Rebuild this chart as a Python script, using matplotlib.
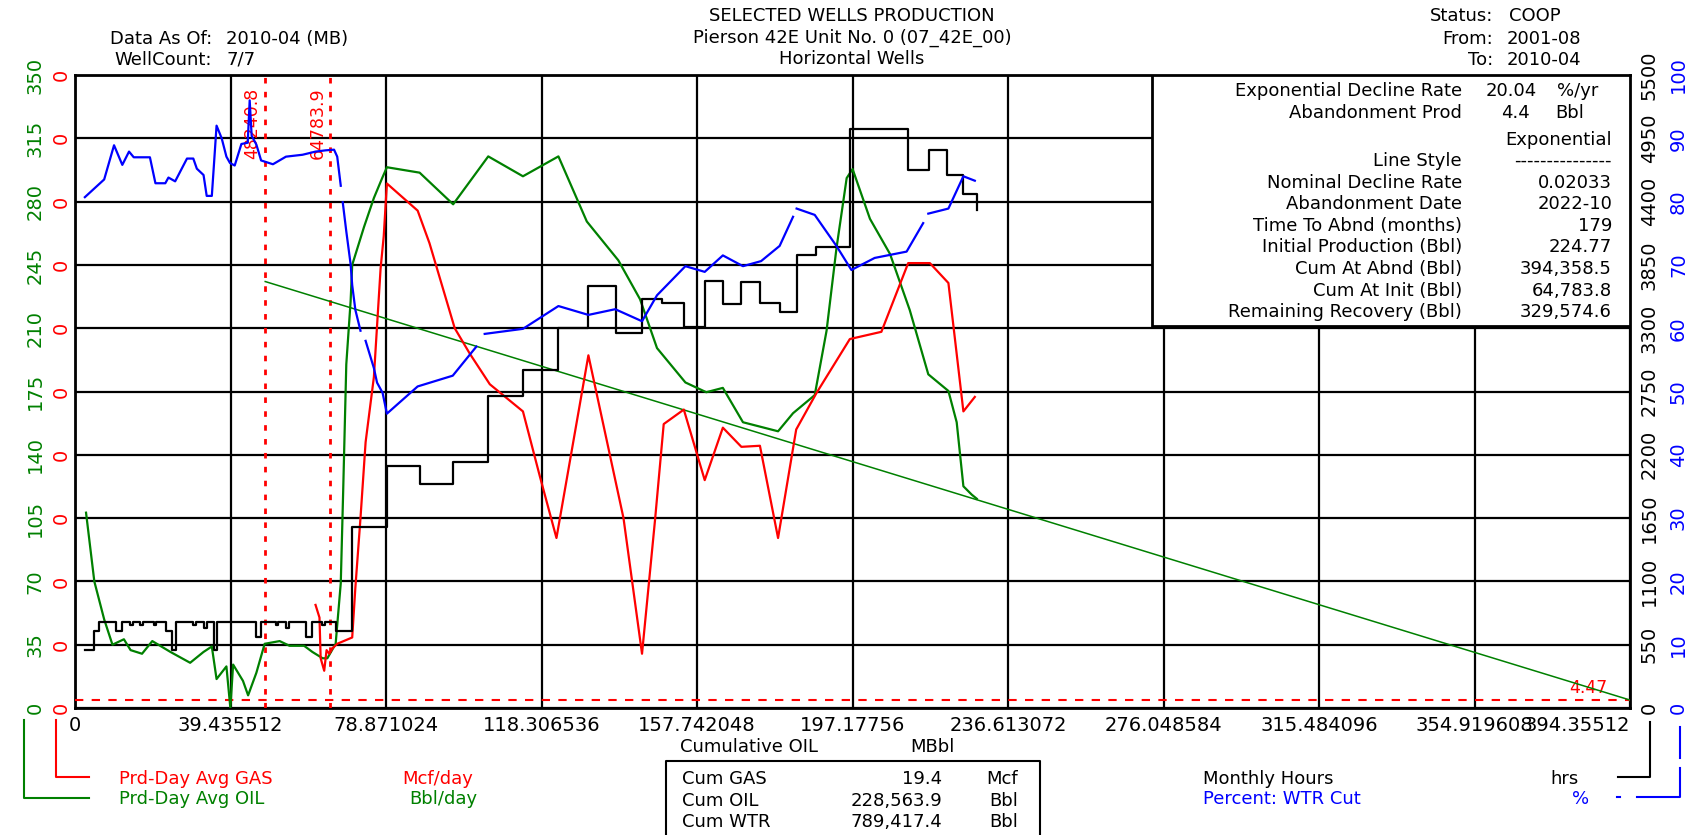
import numpy as np
import matplotlib
matplotlib.use('Agg')
import matplotlib.pyplot as plt
from matplotlib.lines import Line2D
from matplotlib.patches import Rectangle
from matplotlib.ticker import FormatStrFormatter

plt.rcParams['font.family'] = ['DejaVu Sans']

W, H = 1701, 835

# x axis: cumulative oil, MBbl
x_step = 39.435512
x_ticks = [i * x_step for i in range(11)]
x_labels = ['0', '39.435512', '78.871024', '118.306536', '157.742048', '197.17756',
            '236.613072', '276.048584', '315.484096', '354.919608', '394.35512']

oil_ticks = list(range(0, 351, 35))
gas_ticks = [t / 1000 for t in oil_ticks]
hrs_ticks = list(range(0, 5501, 550))
wtr_ticks = list(range(0, 101, 10))

# Prd-Day Avg OIL (Bbl/day)
oil_x = [2.8, 4.9, 7.4, 9.5, 12.4, 14.1, 17.0, 19.6, 24.2, 29.2, 32.6, 34.7, 35.9, 38.4, 39.4,
         40.1, 42.6, 43.9, 46.0, 48.1, 51.9, 54.4, 58.1, 60.2, 62.8, 64.0, 66.1, 67.4, 68.0, 68.8,
         69.9, 70.3, 73.3, 75.8, 77.9, 79.1, 87.4, 95.9, 104.8, 113.6, 122.6, 129.8, 137.8, 143.3,
         147.6, 154.8, 160.1, 164.3, 169.4, 178.3, 182.1, 187.6, 190.6, 193.1, 195.7, 197.2, 201.6,
         206.7, 211.7, 216.4, 221.5, 223.6, 225.3, 227.4, 228.7]
oil_y = [108, 70, 49, 35, 38, 32, 30, 37, 31, 25, 31, 34, 16, 23, 0,
         24, 15, 7, 19.5, 35.5, 37, 34.4, 34.4, 31, 27.5, 27.5, 35.5, 69, 119, 190,
         225, 245, 266, 282, 293, 299, 296, 278.5, 305, 294, 305, 269, 247.5, 226,
         199, 180, 174.6, 177, 158, 153, 163, 173, 208.6, 254, 293, 298, 270.5,
         251, 220, 184.5, 175.3, 158, 122.6, 118, 115.7]

# Prd-Day Avg GAS (Mcf/day)
gas_x = [61.0, 62.0, 62.3, 63.2, 63.8, 64.5, 65.3, 66.5, 70.3, 71.1, 72.4, 73.7, 75.8, 77.5, 78.3,
         79.1, 86.9, 89.9, 96.3, 100.1, 105.2, 113.6, 117.9, 122.1, 130.2, 139.1, 143.8, 147.1,
         149.3, 154.4, 159.7, 164.3, 169.0, 173.7, 178.3, 182.9, 188.0, 196.5, 204.5, 211.3,
         216.8, 221.5, 225.3, 228.2]
gas_y = [0.057, 0.050, 0.0275, 0.0206, 0.032, 0.030, 0.033, 0.0355, 0.039, 0.0665, 0.105, 0.147,
         0.183, 0.243, 0.261, 0.290, 0.275, 0.257, 0.210, 0.196, 0.179, 0.164, 0.128, 0.094,
         0.195, 0.105, 0.030, 0.104, 0.157, 0.165, 0.126, 0.155, 0.1444, 0.145, 0.094, 0.154,
         0.174, 0.204, 0.208, 0.246, 0.246, 0.235, 0.164, 0.172]

# Monthly Hours (hrs)
hrs_x = [2.5, 4.9, 6.1, 10.3, 12.0, 14.0, 14.6, 16.6, 17.2, 20.0, 20.6, 23.0, 24.6, 25.6, 30.0,
         30.6, 32.6, 33.4, 35.3, 35.9, 46.0, 47.2, 51.0, 51.6, 53.5, 54.2, 58.6, 60.2, 62.6, 63.4,
         66.1, 70.3, 79.1, 87.4, 95.8, 104.7, 113.6, 122.6, 130.2, 137.2, 143.8, 148.8, 154.4,
         159.7, 164.3, 169.0, 173.7, 178.7, 183.1, 188.0, 196.5, 211.3, 216.6, 221.2, 225.3, 228.8]
hrs_y = [500, 672, 744, 672, 744, 720, 744, 720, 744, 720, 744, 672, 500, 744, 720,
         744, 696, 744, 500, 744, 620, 744, 720, 744, 696, 744, 620, 744, 720, 744,
         672, 1570, 2100, 1950, 2140, 2710, 2935, 3300, 3665, 3260, 3555, 3520, 3310,
         3710, 3510, 3705, 3520, 3440, 3935, 4005, 5030, 4675, 4850, 4630, 4470, 4330]

# Percent: WTR Cut (%), None = missing month
wtr_x = [2.5, 7.4, 9.9, 12.0, 13.7, 14.9, 19.0, 20.4, 22.9, 23.7, 25.4, 28.4, 30.0, 30.9, 32.6,
         33.4, 34.7, 35.2, 35.9, 37.2, 38.4, 39.3, 40.5, 42.2, 43.8, 44.3, 44.8, 46.0, 47.2, 50.2,
         53.5, 57.7, 61.0, 63.6, 65.7, 66.5, 67.4, 67.6, 67.9, 68.8, 69.9, 70.3, 71.1, 72.4, 72.9,
         73.7, 75.8, 76.6, 78.0, 79.1, 82.0, 86.9, 95.8, 101.8, 102.8, 103.9, 113.6, 122.6, 130.2,
         137.0, 143.8, 147.6, 154.8, 159.7, 164.3, 169.4, 174.0, 178.7, 182.1, 182.5, 183.0, 187.6,
         193.1, 196.9, 202.8, 210.9, 215.1, 215.7, 216.4, 221.5, 225.3, 228.2]
wtr_y = [80.7, 83.5, 88.9, 85.8, 87.9, 87.0, 87.0, 82.9, 82.9, 83.8, 83.2, 86.8, 86.8, 85.2, 84.2,
         80.9, 80.9, 85.5, 92.0, 90.0, 87.1, 86.1, 85.7, 89.1, 89.3, 96.0, 90.4, 89.0, 86.5, 85.9,
         87.1, 87.4, 87.9, 88.1, 88.2, 87.1, 82.5, None, 79.9, 75.3, 70.1, 66.8, 62.9, 59.6, None,
         58.0, 53.7, 51.4, 49.8, 46.5, 48.1, 50.8, 52.5, 57.1, None, 59.1, 59.9, 63.5, 62.1,
         63.0, 61.1, 65.2, 69.8, 68.9, 71.5, 69.8, 70.6, 73.0, 77.6, None, 78.9, 77.9,
         73.0, 69.2, 71.1, 72.1, 76.6, None, 78.1, 78.9, 84.0, 83.3]

# exponential decline forecast (straight in cum domain)
decline_x = [48.24, 394.36]
decline_y = [235.8, 4.4]
abandon_rate = 4.47
marker_cum = [48.2408, 64.7839]
marker_labels = ['48240.8', '64783.9']


def fx(p):
    return p / W


def fy(p):
    return 1 - p / H


def put(x, y, s, color='black', ha='left', size=13):
    fig.text(fx(x), fy(y), s, color=color, ha=ha, va='center', fontsize=size)


def polyline(xs, ys, color):
    fig.add_artist(Line2D([fx(v) for v in xs], [fy(v) for v in ys], color=color, lw=1.5,
                          transform=fig.transFigure))


fig = plt.figure(figsize=(W / 100, H / 100), dpi=100)
ax = fig.add_axes([fx(75), fy(708), fx(1630) - fx(75), fy(75) - fy(708)])
ax.set_xlim(0, x_ticks[-1])
ax.set_ylim(0, 350)
for s in ax.spines.values():
    s.set_linewidth(2)
ax.set_axisbelow(True)
ax.grid(True, color='black', lw=1.6)

ax.set_xticks(x_ticks)
ax.set_xticklabels(x_labels, fontsize=14)
ax.get_xticklabels()[-1].set_ha('right')
ax.tick_params(axis='x', length=0, pad=6)

ax.set_yticks(oil_ticks)
ax.tick_params(axis='y', length=0, pad=22, labelcolor='green', labelsize=14, labelrotation=90)
for t in ax.get_yticklabels():
    t.set_va('center')

gas_ax = ax.twinx()
gas_ax.set_ylim(0, 0.35)
gas_ax.yaxis.tick_left()
gas_ax.set_yticks(gas_ticks)
gas_ax.yaxis.set_major_formatter(FormatStrFormatter('%.0f'))
gas_ax.tick_params(axis='y', length=0, pad=3, labelcolor='red', labelsize=14, labelrotation=90)
for t in gas_ax.get_yticklabels():
    t.set_va('center')

hrs_ax = ax.twinx()
hrs_ax.set_ylim(0, 5500)
hrs_ax.set_yticks(hrs_ticks)
hrs_ax.tick_params(axis='y', length=0, pad=7, labelcolor='black', labelsize=14, labelrotation=90)

wtr_ax = ax.twinx()
wtr_ax.set_ylim(0, 100)
wtr_ax.set_yticks(wtr_ticks)
wtr_ax.tick_params(axis='y', length=0, pad=28, labelcolor='blue', labelsize=14, labelrotation=90)
for a in (hrs_ax, wtr_ax):
    for t in a.get_yticklabels():
        t.set_va('center')
for a in (gas_ax, hrs_ax, wtr_ax):
    for s in a.spines.values():
        s.set_visible(False)

# results box
ax.add_patch(Rectangle((fx(1152 - 75) * W / 1555, 1 - (326 - 75) / 633), 1, 1,
                       transform=ax.transAxes, fc='white', ec='black', lw=2, zorder=2.5,
                       clip_on=True))

# markers and abandonment line
for c, lab in zip(marker_cum, marker_labels):
    ax.axvline(c, color='red', lw=2, ls=(0, (2, 3)), zorder=2.6)
    ax.annotate(lab, xy=(c, 1), xycoords=('data', 'axes fraction'), xytext=(-3, -9),
                textcoords='offset points', rotation=90, ha='right', va='top', color='red',
                fontsize=12.5, zorder=2.6)
ax.axhline(abandon_rate, color='red', lw=1.5, ls=(0, (4, 4)), zorder=2.6)
ax.annotate(f'{abandon_rate:.2f}', xy=(1, abandon_rate), xycoords=('axes fraction', 'data'),
            xytext=(-16, 2), textcoords='offset points', ha='right', va='bottom', color='red',
            fontsize=12.5, zorder=2.6)

ax.plot(decline_x, decline_y, color='green', lw=1.1, zorder=3)
ax.plot(oil_x, oil_y, color='green', lw=1.6, zorder=3)
gas_ax.plot(gas_x, gas_y, color='red', lw=1.6)
hrs_ax.plot(hrs_x, hrs_y, color='black', lw=1.6, drawstyle='steps-post')
wtr_ax.plot(wtr_x, np.array(wtr_y, dtype=float), color='blue', lw=1.6)

# header
put(852, 16, 'SELECTED WELLS PRODUCTION', ha='center')
put(852, 38, 'Pierson 42E Unit No. 0 (07_42E_00)', ha='center')
put(852, 59, 'Horizontal Wells', ha='center')
put(212, 39, 'Data As Of:', ha='right')
put(226, 39, '2010-04 (MB)')
put(212, 60, 'WellCount:', ha='right')
put(226, 60, '7/7')
put(1493, 16, 'Status:', ha='right')
put(1509, 16, 'COOP')
put(1493, 39, 'From:', ha='right')
put(1507, 39, '2001-08')
put(1493, 60, 'To:', ha='right')
put(1507, 60, '2010-04')

# forecast table
put(1462, 91, 'Exponential Decline Rate', ha='right')
put(1537, 91, '20.04', ha='right')
put(1557, 91, '%/yr')
put(1462, 113, 'Abandonment Prod', ha='right')
put(1530, 113, '4.4', ha='right')
put(1555, 113, 'Bbl')
put(1612, 140, 'Exponential', ha='right')
rows = [('Line Style', '---------------'), ('Nominal Decline Rate', '0.02033'),
        ('Abandonment Date', '2022-10'), ('Time To Abnd (months)', '179'),
        ('Initial Production (Bbl)', '224.77'), ('Cum At Abnd (Bbl)', '394,358.5'),
        ('Cum At Init (Bbl)', '64,783.8'), ('Remaining Recovery (Bbl)', '329,574.6')]
for i, (lab, val) in enumerate(rows):
    y = 161 + i * 21.6
    put(1462, y, lab, ha='right')
    put(1612, y, val, ha='right')

# x label and totals
put(680, 747, 'Cumulative OIL')
put(910, 747, 'MBbl')
polyline([666, 666, 1040, 1040], [840, 761, 761, 840], 'black')
totals = [('Cum GAS', '19.4', 'Mcf'), ('Cum OIL', '228,563.9', 'Bbl'), ('Cum WTR', '789,417.4', 'Bbl')]
for i, (lab, val, unit) in enumerate(totals):
    y = 779 + i * 21.5
    put(682, y, lab)
    put(942, y, val, ha='right')
    put(1018, y, unit, ha='right')

# legend keys
polyline([56, 56, 89], [720, 777, 777], 'red')
polyline([24, 24, 89], [720, 798, 798], 'green')
put(119, 779, 'Prd-Day Avg GAS', color='red')
put(402, 779, 'Mcf/day', color='red')
put(119, 799, 'Prd-Day Avg OIL', color='green')
put(409, 799, 'Bbl/day', color='green')
polyline([1650, 1650, 1618], [722, 777, 777], 'black')
polyline([1680, 1680], [727, 758], 'blue')
polyline([1680, 1680, 1637], [768, 797, 797], 'blue')
polyline([1617, 1620], [797, 797], 'blue')
put(1203, 779, 'Monthly Hours')
put(1550, 779, 'hrs')
put(1203, 799, 'Percent: WTR Cut', color='blue')
put(1572, 799, '%', color='blue')

fig.savefig('out.png', dpi=100)
